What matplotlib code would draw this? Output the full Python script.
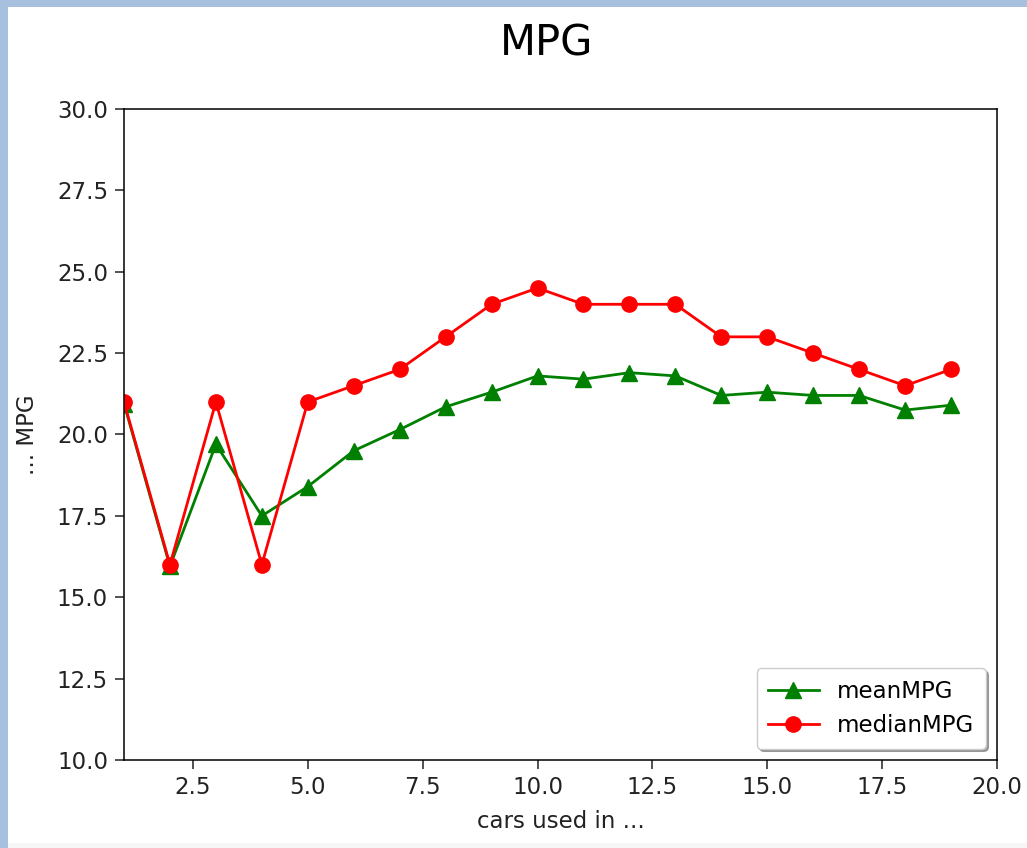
import numpy as np
import matplotlib
matplotlib.use('Agg')
import matplotlib.pyplot as plt
from matplotlib.patches import Rectangle

# values
cars = list(range(1, 20))
mean_mpg = [20.95, 15.95, 19.7, 17.5, 18.4, 19.5, 20.15, 20.85, 21.3,
            21.8, 21.7, 21.9, 21.8, 21.2, 21.3, 21.2, 21.2, 20.75, 20.9]
median_mpg = [21.0, 16.0, 21.0, 16.0, 21.0, 21.5, 22.0, 23.0, 24.0,
              24.5, 24.0, 24.0, 24.0, 23.0, 23.0, 22.5, 22.0, 21.5, 22.0]

W, H = 1027, 848
fig = plt.figure(figsize=(W / 100, H / 100), dpi=100, facecolor='white')

# screenshot frame: blue strips top/left, faint grey strip at the bottom
frame = '#a7c0de'
fig.patches.append(Rectangle((0, 0), 1, 5 / H, transform=fig.transFigure,
                             facecolor='#f6f6f6', edgecolor='none'))
fig.patches.append(Rectangle((0, 1 - 7 / H), 1, 7 / H, transform=fig.transFigure,
                             facecolor=frame, edgecolor='none'))
fig.patches.append(Rectangle((0, 0), 8 / W, 1, transform=fig.transFigure,
                             facecolor=frame, edgecolor='none'))

ax = fig.add_axes([124 / W, 1 - 760 / H, (997 - 124) / W, (760 - 109) / H])

ax.plot(cars, mean_mpg, color='green', marker='^', linewidth=2,
        markersize=11, label='meanMPG')
ax.plot(cars, median_mpg, color='red', marker='o', linewidth=2,
        markersize=11, label='medianMPG')

ax.set_xlim(1, 20)
ax.set_ylim(10, 30)
ax.set_xticks(np.arange(2.5, 20.1, 2.5))
ax.set_yticks(np.arange(10, 30.1, 2.5))
ax.tick_params(labelsize=16.5, length=6.5, width=1.1, pad=5, colors='#222222')
for sp in ax.spines.values():
    sp.set_linewidth(1.1)

ax.set_xlabel('cars used in ...', fontsize=16.5, labelpad=8, color='#222222')
ax.set_ylabel('... MPG', fontsize=16.5, color='#222222')
ax.yaxis.set_label_coords(-0.097, 0.5)

fig.text(547 / W, 1 - 44 / H, 'MPG', fontsize=30, ha='center', va='center')

leg = ax.legend(loc='lower right', fontsize=16.5, fancybox=True, shadow=True,
                handlelength=2.2, borderpad=0.5)

fig.savefig('out.png', dpi=100)
